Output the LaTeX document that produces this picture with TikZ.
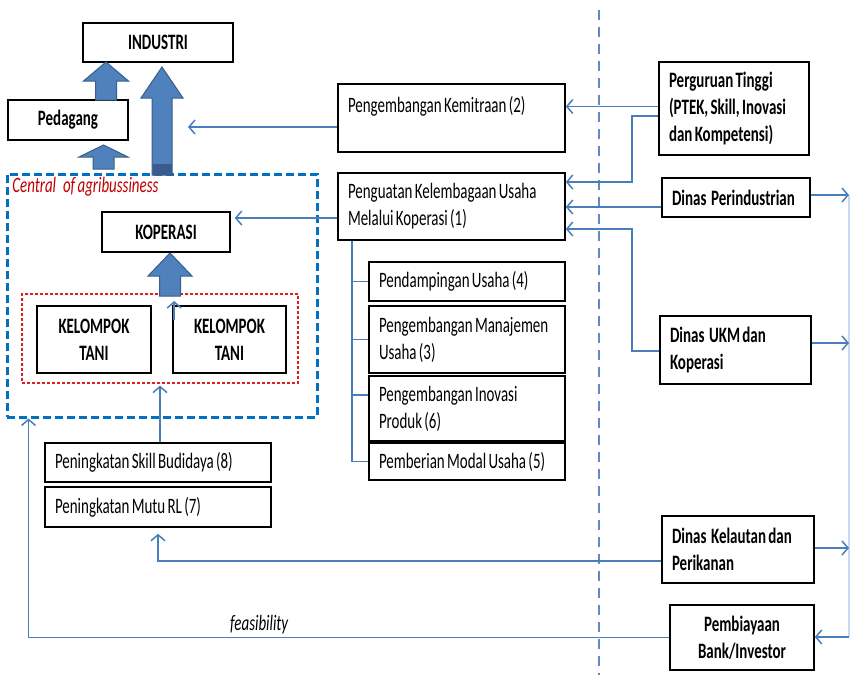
\documentclass[tikz,border=0pt]{standalone}
\usepackage{fontspec}
\setmainfont{Carlito}[FakeStretch=0.68, WordSpace=0.68]
\usetikzlibrary{arrows.meta,calc}
\definecolor{connc}{HTML}{4A7EBB}
\definecolor{blkfill}{HTML}{4F81BD}
\definecolor{blkdraw}{HTML}{385D8A}
\definecolor{blkdark}{HTML}{3B5B8A}
\definecolor{cagblue}{HTML}{0070C0}
\definecolor{sepblue}{HTML}{5B8CC8}
\definecolor{faintblue}{HTML}{C6D9F1}
\definecolor{titlered}{HTML}{C00000}
\definecolor{dotred}{HTML}{E02020}
\newcommand\blockarr[6]{\filldraw[blk] (#1,#2) -- (#1+#5,#3) -- (#1+#6,#3) -- (#1+#6,#4) -- (#1-#6,#4) -- (#1-#6,#3) -- (#1-#5,#3) -- cycle;}
\newcommand\oneline[1]{\mbox{#1}}
\begin{document}
\begin{tikzpicture}[x=0.5pt,y=-0.5pt,
  font=\fontsize{11}{13.5}\selectfont,
  box/.style={draw=black, line width=0.8pt, inner xsep=5pt, inner ysep=0pt, fill=white},
  lbox/.style={box, align=flush left},
  bbox/.style={box, align=flush left, font=\fontsize{11}{13.5}\selectfont\bfseries},
  cbox/.style={box, align=center, font=\fontsize{11}{13.5}\selectfont\bfseries},
  conn/.style={draw=connc, line width=0.75pt, -{Straight Barb[length=3pt,width=7pt]}},
  plain/.style={draw=connc, line width=0.75pt},
  blk/.style={fill=blkfill, draw=blkdraw, line width=0.5pt},
]
\useasboundingbox (0,0) rectangle (851,675);

% separator
\draw[sepblue, line width=1pt, dash pattern=on 5pt off 3.5pt] (599,10) -- (599,675);

% central of agribusiness frame
\node[draw=cagblue, line width=1.5pt, dash pattern=on 4pt off 2pt, minimum width=155pt, minimum height=121.5pt, inner sep=0pt] (cag) at (162,295.5) {};
\node[anchor=west, inner sep=0pt, text=titlered, font=\fontsize{11}{13.5}\selectfont\itshape] (cagtitle) at (12,187) {Central\ \ \ of agribussiness};
\node[draw=dotred, line width=0.6pt, dash pattern=on 1.5pt off 1pt, minimum width=138pt, minimum height=44.5pt, inner sep=0pt] (red) at (160,338.5) {};

% left boxes
\node[cbox, minimum width=75pt, minimum height=19.5pt] (ind) at (158,42.5) {INDUSTRI};
\node[cbox, minimum width=60pt, minimum height=20pt] (ped) at (68,120) {Pedagang};
\node[cbox, minimum width=64pt, minimum height=20pt] (kop) at (166,232) {KOPERASI};
\node[cbox, minimum width=57pt, minimum height=33.5pt] (kt1) at (94,339.5) {KELOMPOK\\TANI};
\node[cbox, minimum width=56.5pt, minimum height=33.5pt] (kt2) at (229.5,339.5) {KELOMPOK\\TANI};
\node[lbox, text width=103pt, minimum height=19.5pt] (skill) at (158,462.5) {\oneline{Peningkatan Skill Budidaya (8)}};
\node[lbox, text width=103pt, minimum height=20pt] (mutu) at (158,507) {\oneline{Peningkatan Mutu RL (7)}};

% middle boxes
\node[lbox, text width=103.5pt, minimum height=34pt] (kem) at (451.5,118) {\oneline{Pengembangan Kemitraan (2)}\\\mbox{}};
\node[lbox, text width=103.5pt, minimum height=33.5pt] (peng) at (451.5,206.5) {\oneline{Penguatan Kelembagaan Usaha}\\\oneline{Melalui Koperasi (1)}};
\node[lbox, text width=88pt, minimum height=19.5pt] (pend) at (467,281.5) {\oneline{Pendampingan Usaha (4)}};
\node[lbox, text width=88pt, minimum height=33.5pt] (man) at (467,339.5) {\oneline{Pengembangan Manajemen}\\\oneline{Usaha (3)}};
\node[lbox, text width=88pt, minimum height=32.5pt] (ino) at (467,408.5) {\oneline{Pengembangan Inovasi}\\\oneline{Produk (6)}};
\node[lbox, text width=88pt, minimum height=18.5pt] (mod) at (467,461.5) {\oneline{Pemberian Modal Usaha (5)}};

% right boxes
\node[bbox, text width=65pt, minimum height=46.5pt] (pt) at (734,108.5) {\oneline{Perguruan Tinggi}\\\oneline{(PTEK, Skill, Inovasi}\\\oneline{dan Kompetensi)}};
\node[bbox, text width=64pt, minimum height=19.5pt] (dp) at (736,197.5) {\oneline{Dinas\ \ Perindustrian}};
\node[bbox, text width=65.5pt, minimum height=34pt] (ukm) at (735.5,350) {\oneline{Dinas\ \ UKM dan}\\\oneline{Koperasi}};
\node[bbox, text width=66pt, minimum height=33.5pt] (kel) at (738,549.5) {\oneline{Dinas\ \ Kelautan dan}\\\oneline{Perikanan}};
\node[cbox, minimum width=72pt, minimum height=32.5pt] (bank) at (742,637.5) {Pembiayaan\\Bank/Investor};

% block arrows
\blockarr{106}{62}{81}{100}{22.5}{10.5}
\blockarr{103.5}{145}{157}{169}{24.5}{10.5}
\blockarr{162}{67}{98}{175}{21}{10}
\fill[blkdark] (152.5,164) rectangle (171.5,175);
\blockarr{170}{253}{276}{296}{22}{10.5}

% connectors
\coordinate (bigarr) at (188,127);
\draw[conn] ([yshift=-4.5pt]kem.west) -- (bigarr);
\draw[conn, shorten >=2pt] ([yshift=-5.75pt]peng.west) -- ([yshift=7pt]kop.east);
\draw[conn] ([yshift=1pt]pt.west) -- ([yshift=1pt]pt.west -| kem.east);
\draw[conn] ([yshift=-3.75pt]pt.west) -- ++(-13pt,0) |- ([yshift=12.25pt]peng.east);
\draw[conn] ([yshift=-4.75pt]dp.west) -- ([yshift=-4.75pt]dp.west -| peng.east);
\draw[conn] ([yshift=-0.5pt]ukm.west) -- ++(-13.5pt,0) |- ([yshift=-11.25pt]peng.east);

\coordinate (bus) at ([xshift=7.5pt]peng.south west);
\draw[plain] (bus) |- (mod.west);
\draw[plain] (pend.west) -- (pend.west -| bus);
\draw[plain] (man.west) -- (man.west -| bus);
\draw[plain] ([yshift=6.75pt]ino.west) -- ([yshift=6.75pt]ino.west -| bus);

\draw[conn, shorten >=1pt] (red.south |- skill.north) -- (red.south);
\draw[conn] ([xshift=1pt,yshift=9.75pt]kt2.west) -- ++(0,9.5pt);
\draw[conn, shorten >=3pt] ([yshift=-5.75pt]kel.west) -| (mutu.south);

\coordinate (cagx) at ([xshift=11.5pt]cag.south west);
\draw[conn] (bank.west) -- node[above, pos=0.64, inner sep=1.5pt, font=\fontsize{11}{13.5}\selectfont\itshape] (feas) {feasibility} (bank.west -| cagx) -- (cagx);

\coordinate (rtop) at (849,195);
\coordinate (rbot) at (849,637);
\draw[faintblue, line width=0.6pt] (rtop) -- (rbot);
\draw[conn] ([yshift=1.25pt]dp.east) -- ([yshift=1.25pt]dp.east -| rtop);
\draw[conn] ([yshift=3.5pt]ukm.east) -- ([yshift=3.5pt]ukm.east -| rtop);
\draw[conn] ([yshift=0.75pt]kel.east) -- ([yshift=0.75pt]kel.east -| rtop);
\draw[conn] (rbot) -- (rbot -| bank.east);
\end{tikzpicture}
\end{document}
